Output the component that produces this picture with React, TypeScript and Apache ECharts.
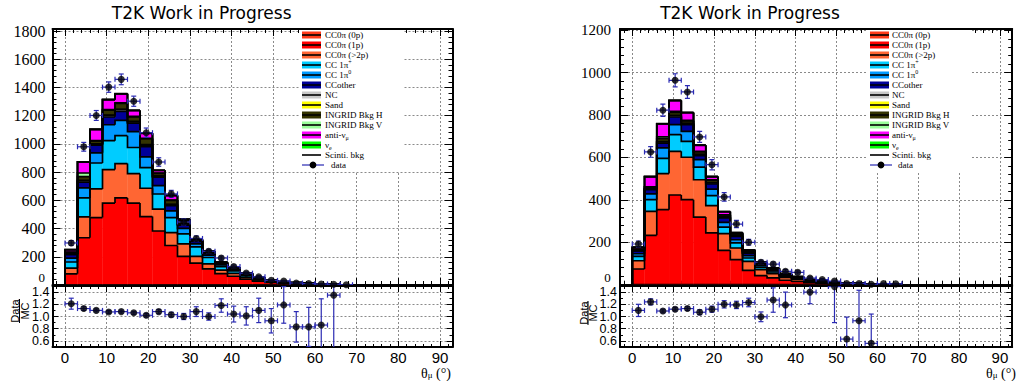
import React, { useEffect, useRef } from 'react';
import * as echarts from 'echarts';

const BIN_WIDTH = 3;
const BIN_LOW_LEFT = [0, 3, 6, 9, 12, 15, 18, 21, 24, 27, 30, 33, 36, 39, 42, 45, 48, 51, 54, 57, 60, 63, 66];
const BIN_LOW_RIGHT = [0, 3, 6, 9, 12, 15, 18, 21, 24, 27, 30, 33, 36, 39, 42, 45, 48, 51, 54, 57, 60, 63];

const LAYER_NAMES = ['CC0π (0p)', 'CC0π (1p)', 'CC0π (>2p)', 'CC 1π+', 'CC 1π0', 'CCother', 'NC', 'Sand', 'INGRID Bkg H', 'INGRID Bkg V', 'anti-νμ', 'νe', 'Scinti. bkg'];
const LAYER_COLORS = ['#ff3b1a', '#ff0000', '#ff6633', '#00ccff', '#0099ff', '#000099', '#c8c8c8', '#ffff00', '#333300', '#99ff99', '#ff00ff', '#00ff00', 'none'];

// ---------- left panel (stacked MC, events per 3 degree bin) ----------
const L_CC0PI_0P = [0, 0, 0, 0, 0, 0, 0, 0, 0, 0, 0, 0, 0, 0, 0, 0, 0, 0, 0, 0, 0, 0, 0];
const L_CC0PI_1P = [79, 335, 478, 581, 617, 581, 485, 383, 280, 203, 155, 115, 80, 62, 42, 28, 19, 13, 9, 6, 4, 2, 0.6];
const L_CC0PI_2P = [41, 148, 203, 237, 244, 208, 201, 155, 91, 89, 48, 35, 25, 20, 13, 8, 5, 3, 2, 2, 1, 0.6, 0.2];
const L_CC1PIP = [43, 134, 184, 205, 198, 186, 146, 107, 107, 71, 67, 45, 25, 18, 12, 7, 5, 3, 2, 1.5, 1, 0.6, 0.1];
const L_CC1PI0 = [28, 71, 72, 113, 108, 113, 76, 60, 48, 39, 22, 17, 12, 10, 6, 3, 2, 1, 1, 0.5, 0.7, 0.3, 0.1];
const L_CCOTHER = [24, 41, 55, 55, 64, 59, 72, 60, 36, 23, 18, 14, 10, 8, 6, 4, 3, 2, 1.5, 1, 0.6, 0.3, 0.1];
const L_NC = [4, 10, 7, 10, 12, 10, 12, 6, 8, 6, 2, 2, 1.5, 1, 0.7, 0.5, 0.4, 0.3, 0.2, 0.2, 0.1, 0.1, 0];
const L_SAND = [1, 3, 2, 3, 3, 3, 3, 2, 2, 1, 0.5, 0.5, 0.3, 0.3, 0.2, 0.1, 0.1, 0.1, 0.1, 0, 0, 0, 0];
const L_INGRID_H = [12, 27, 20, 36, 42, 32, 42, 19, 28, 20, 5, 7, 4, 3.5, 2, 1.3, 1, 0.6, 0.7, 0.5, 0.4, 0.1, 0.1];
const L_INGRID_V = [2, 25, 2, 3, 3, 3, 3, 2, 2, 2, 0.5, 0.5, 0.2, 0.2, 0.1, 0.1, 0, 0, 0, 0, 0, 0, 0];
const L_ANTINU = [16, 77, 79, 70, 63, 41, 34, 18, 32, 11, 4.5, 3.6, 3.6, 2.7, 1.8, 0.9, 0.5, 0.8, 0.4, 0.3, 0.2, 0, 0];
const L_NUE = [1, 2, 2, 2, 2, 2, 2, 1, 1, 1, 0.5, 0.4, 0.4, 0.3, 0.2, 0.1, 0, 0.2, 0.1, 0, 0, 0, 0];
const L_SCINTI = [0.5, 1, 1, 1, 1, 1, 1, 0.5, 0.5, 0.5, 0.3, 0.2, 0.1, 0.1, 0.1, 0, 0, 0, 0, 0, 0, 0, 0];

const L_DATA = [298, 980, 1202, 1403, 1458, 1303, 1080, 872, 646, 447, 330, 239, 191, 131, 84, 58, 33, 28, 14, 10, 7, 5, 2];
const L_DATA_ERR = [17, 31, 35, 37, 38, 36, 33, 30, 25, 21, 18, 15, 14, 11, 9, 8, 6, 5, 4, 3, 3, 2.5, 1.5];
const L_RATIO = [1.21, 1.13, 1.10, 1.075, 1.08, 1.06, 1.02, 1.08, 1.03, 1.0, 1.08, 1.0, 1.18, 1.04, 1.01, 1.10, 0.93, 1.19, 0.83, 0.83, 0.86, 1.35, null];
const L_RATIO_ERR = [0.09, 0.03, 0.025, 0.025, 0.025, 0.025, 0.03, 0.035, 0.04, 0.05, 0.08, 0.06, 0.11, 0.13, 0.15, 0.2, 0.2, 0.3, 0.25, 0.32, 0.43, 1.0, 0];

// ---------- right panel ----------
const R_CC0PI_0P = [0, 0, 0, 0, 0, 0, 0, 0, 0, 0, 0, 0, 0, 0, 0, 0, 0, 0, 0, 0, 0, 0];
const R_CC0PI_1P = [74, 233, 354, 423, 401, 319, 244, 162, 118, 68, 43, 32, 21, 15, 10, 7, 5, 3.5, 2.5, 1.6, 1.2, 0.8];
const R_CC0PI_2P = [39, 113, 170, 206, 200, 176, 129, 79, 55, 42, 28, 20, 13, 10, 6, 4, 3, 2.5, 1.5, 1.1, 0.8, 0.5];
const R_CC1PIP = [21, 55, 72, 79, 75, 60, 47, 31, 24, 16, 11, 8, 6, 4, 3, 2, 1.5, 1, 0.8, 0.5, 0.4, 0.3];
const R_CC1PI0 = [12, 27, 49, 47, 47, 35, 31, 22, 15, 11, 8, 6, 4, 3, 1.5, 1.3, 0.8, 0.6, 0.4, 0.3, 0.2, 0.1];
const R_CCOTHER = [13, 20, 23, 36, 32, 19, 24, 21, 16, 12, 7, 5, 3, 2, 1.5, 1.2, 0.7, 0.6, 0.3, 0.2, 0.2, 0.1];
const R_NC = [2, 3, 6, 6, 5, 5, 5, 4, 3, 2, 1, 1, 0.7, 0.5, 0.3, 0.2, 0.1, 0.1, 0.1, 0, 0, 0];
const R_SAND = [0.5, 1, 1, 1, 1, 1, 1, 1, 0.5, 0.5, 0.2, 0.2, 0.1, 0.1, 0, 0, 0, 0, 0, 0, 0, 0];
const R_INGRID_H = [5.5, 8, 14, 15, 12, 12, 12, 9, 8.5, 6.5, 3.5, 2.6, 2, 1.8, 0.6, 0.5, 0.5, 0.3, 0.2, 0.2, 0.1, 0.1];
const R_INGRID_V = [1, 1, 8, 5, 2, 2, 2, 1, 1, 1, 0.3, 0.2, 0.2, 0.1, 0.1, 0.1, 0, 0, 0, 0, 0, 0];
const R_ANTINU = [8, 48, 61, 50, 36, 28, 14, 14, 4, 5, 4.5, 3.6, 1.8, 1.3, 0.9, 0.6, 0.4, 0.3, 0.2, 0.1, 0.1, 0.1];
const R_NUE = [0.5, 1, 1, 1, 1, 1, 1, 0.5, 0.5, 0.5, 0.3, 0.2, 0.1, 0.1, 0.1, 0.1, 0, 0.1, 0, 0, 0, 0];
const R_SCINTI = [0.3, 0.5, 0.5, 0.5, 0.5, 0.5, 0.5, 0.3, 0.3, 0.3, 0.2, 0.1, 0.1, 0, 0, 0, 0, 0, 0, 0, 0, 0];

const R_DATA = [192, 626, 823, 964, 909, 697, 566, 414, 286, 200, 106, 97, 63, 58, 31, 24, 17, 6, 6, 2, 5, 4];
const R_DATA_ERR = [14, 25, 29, 31, 30, 26, 24, 20, 17, 14, 10, 10, 8, 7.6, 5.6, 4.9, 4, 2.4, 2.4, 1.4, 2.2, 2];
const R_RATIO = [1.10, 1.24, 1.09, 1.12, 1.13, 1.07, 1.12, 1.20, 1.19, 1.23, 0.995, 1.27, 1.19, null, 1.40, null, 1.49, 0.63, 0.93, 0.56, null, null];
const R_RATIO_ERR = [0.1, 0.05, 0.03, 0.03, 0.03, 0.04, 0.05, 0.06, 0.06, 0.07, 0.08, 0.2, 0.21, 0, 0.19, 0, 0.59, 0.36, 0.5, 0.48, 0, 0];

const TITLE = 'T2K Work in Progress';
const ERR_COLOR = '#2b2bb3';

const LEFT_LAYERS = [L_CC0PI_0P, L_CC0PI_1P, L_CC0PI_2P, L_CC1PIP, L_CC1PI0, L_CCOTHER, L_NC, L_SAND, L_INGRID_H, L_INGRID_V, L_ANTINU, L_NUE, L_SCINTI];
const RIGHT_LAYERS = [R_CC0PI_0P, R_CC0PI_1P, R_CC0PI_2P, R_CC1PIP, R_CC1PI0, R_CCOTHER, R_NC, R_SAND, R_INGRID_H, R_INGRID_V, R_ANTINU, R_NUE, R_SCINTI];

function buildStack(binLow: number[], layers: number[][]) {
  const n = binLow.length;
  let cum = binLow.map(() => 0);
  const items: any[] = [];
  layers.forEach((layer, j) => {
    const next = cum.map((c, k) => c + (layer[k] || 0));
    for (let k = 0; k < n; k++) {
      items.push({ value: [binLow[k], binLow[k] + BIN_WIDTH, cum[k], next[k], k > 0 ? next[k - 1] : 0, j, k === n - 1 ? 1 : 0] });
    }
    cum = next;
  });
  return items;
}

const stackRender = (params: any, api: any) => {
  const x0 = api.value(0), x1 = api.value(1), b = api.value(2), t = api.value(3), pt = api.value(4), j = api.value(5), last = api.value(6);
  const lb = api.coord([x0, b]);
  const rt = api.coord([x1, t]);
  const children: any[] = [];
  const fill = LAYER_COLORS[j];
  if (fill !== 'none' && t > b) {
    children.push({ type: 'rect', shape: { x: lb[0], y: rt[1], width: rt[0] - lb[0] + 0.3, height: lb[1] - rt[1] }, style: { fill }, z2: 1 });
  }
  const pts = [api.coord([x0, pt]), api.coord([x0, t]), rt];
  if (last) pts.push(api.coord([x1, 0]));
  children.push({ type: 'polyline', shape: { points: pts }, style: { stroke: '#000', lineWidth: 1.7, fill: null }, z2: 20 + j });
  return { type: 'group', children };
};

const errRender = (params: any, api: any) => {
  const x = api.value(0), y = api.value(1), ey = api.value(2), ex = api.value(3);
  const l = api.coord([x - ex, y]);
  const r = api.coord([x + ex, y]);
  const t = api.coord([x, y + ey]);
  const b = api.coord([x, y - ey]);
  const cap = 2.5;
  const st = { stroke: ERR_COLOR, lineWidth: 1.2 };
  return {
    type: 'group',
    children: [
      { type: 'line', shape: { x1: l[0], y1: l[1], x2: r[0], y2: r[1] }, style: st },
      { type: 'line', shape: { x1: t[0], y1: t[1], x2: b[0], y2: b[1] }, style: st },
      { type: 'line', shape: { x1: l[0], y1: l[1] - cap, x2: l[0], y2: l[1] + cap }, style: st },
      { type: 'line', shape: { x1: r[0], y1: r[1] - cap, x2: r[0], y2: r[1] + cap }, style: st },
      { type: 'line', shape: { x1: t[0] - cap, y1: t[1], x2: t[0] + cap, y2: t[1] }, style: st },
      { type: 'line', shape: { x1: b[0] - cap, y1: b[1], x2: b[0] + cap, y2: b[1] }, style: st },
    ],
  };
};

function points(binLow: number[], vals: (number | null)[], errs: number[]) {
  const out: any[] = [];
  binLow.forEach((lo, k) => {
    const v = vals[k];
    if (v !== null && v !== undefined) out.push([lo + BIN_WIDTH / 2, v, errs[k], BIN_WIDTH / 2]);
  });
  return out;
}

const GRID_LINE = { color: '#8a8a8a', type: [2, 2] as any, width: 1 };

function xAx(grid: number, pos: string, labels: boolean, primary: boolean, tick: number, minor: number) {
  return {
    type: 'value', gridIndex: grid, position: pos, min: -3, max: 93, splitNumber: 10,
    axisLine: { show: true, onZero: false, lineStyle: { color: '#000', width: 2 } },
    axisTick: { show: true, inside: true, length: tick, lineStyle: { color: '#000', width: 1 } },
    minorTick: { show: true, splitNumber: 5, length: minor, lineStyle: { color: '#000', width: 1 } },
    splitLine: { show: primary, lineStyle: GRID_LINE },
    minorSplitLine: { show: false },
    axisLabel: {
      show: labels, showMinLabel: false, showMaxLabel: false, margin: 4, color: '#000',
      fontFamily: 'Liberation Sans', fontSize: 15, lineHeight: 12, formatter: (v: number) => String(v),
    },
  };
}

function yAx(grid: number, pos: string, min: number, max: number, split: number, minorSplit: number, labels: any, primary: boolean, tick: number, minor: number) {
  return {
    type: 'value', gridIndex: grid, position: pos, min, max, splitNumber: split,
    axisLine: { show: true, onZero: false, lineStyle: { color: '#000', width: 2 } },
    axisTick: { show: true, inside: true, length: tick, lineStyle: { color: '#000', width: 1 } },
    minorTick: { show: minorSplit > 0, splitNumber: minorSplit || 2, length: minor, lineStyle: { color: '#000', width: 1 } },
    splitLine: { show: primary, lineStyle: GRID_LINE },
    minorSplitLine: { show: false },
    axisLabel: labels ? { show: true, showMinLabel: false, showMaxLabel: false, color: '#000', ...labels } : { show: false },
  };
}

const LEGEND_TEXTS = ['CC0π (0p)', 'CC0π (1p)', 'CC0π (>2p)', '{n|CC 1π}{p|+}', '{n|CC 1π}{p|0}', 'CCother', 'NC', 'Sand', 'INGRID Bkg H', 'INGRID Bkg V', '{n|anti-ν}{b|μ}', '{n|ν}{b|e}', 'Scinti. bkg', 'data'];

function legend(boxX: number, boxW: number, swX: number, textX: number) {
  const els: any[] = [
    { type: 'rect', shape: { x: boxX, y: 30, width: boxW, height: 141 }, style: { fill: '#fff' }, z: 10, z2: 0 },
  ];
  const rich = {
    n: { fontFamily: 'Liberation Serif', fontSize: 9, lineHeight: 12 },
    p: { fontFamily: 'Liberation Serif', fontSize: 6, lineHeight: 12, verticalAlign: 'top' },
    b: { fontFamily: 'Liberation Serif', fontSize: 6, lineHeight: 12, verticalAlign: 'bottom' },
  };
  LEGEND_TEXTS.forEach((txt, i) => {
    const cy = 35 + 10 * i;
    if (i < 12) {
      els.push({ type: 'rect', shape: { x: swX, y: cy - 3.5, width: 19, height: 7 }, style: { fill: LAYER_COLORS[i] }, z: 10, z2: 1 });
      els.push({ type: 'line', shape: { x1: swX, y1: cy, x2: swX + 19, y2: cy }, style: { stroke: '#000', lineWidth: 1.6 }, z: 10, z2: 2 });
    } else if (i === 12) {
      els.push({ type: 'line', shape: { x1: swX, y1: cy, x2: swX + 19, y2: cy }, style: { stroke: '#000', lineWidth: 1.6 }, z: 10, z2: 2 });
    } else {
      els.push({ type: 'line', shape: { x1: swX, y1: cy, x2: swX + 22, y2: cy }, style: { stroke: ERR_COLOR, lineWidth: 1.2 }, z: 10, z2: 2 });
      els.push({ type: 'circle', shape: { cx: swX + 11, cy, r: 3.4 }, style: { fill: '#000' }, z: 10, z2: 3 });
    }
    els.push({
      type: 'text', x: i === 13 ? textX + 6 : textX, y: cy, z: 10, z2: 3,
      style: { text: txt, rich, fontFamily: 'Liberation Serif', fontSize: 9, fill: '#000', verticalAlign: 'middle', align: 'left' },
    });
  });
  return els;
}

function ratioTitle(cx: number, cy: number) {
  return {
    type: 'group', x: cx, y: cy, rotation: Math.PI / 2, z: 10,
    children: [
      { type: 'text', x: 0, y: -4.5, style: { text: 'Data', fontFamily: 'Liberation Sans', fontSize: 11, lineHeight: 9, fill: '#000', align: 'center', verticalAlign: 'middle' } },
      { type: 'line', shape: { x1: -12, y1: 0, x2: 12, y2: 0 }, style: { stroke: '#000', lineWidth: 1 } },
      { type: 'text', x: 0, y: 5, style: { text: 'MC', fontFamily: 'Liberation Sans', fontSize: 11, lineHeight: 9, fill: '#000', align: 'center', verticalAlign: 'middle' } },
    ],
  };
}

function xTitle(rightX: number, y: number) {
  return {
    type: 'text', x: rightX, y, z: 10,
    style: {
      text: '{a|θ}{s|μ}{a| (°)}', align: 'right', verticalAlign: 'middle',
      rich: {
        a: { fontFamily: 'Liberation Serif', fontSize: 14, lineHeight: 12, fill: '#000' },
        s: { fontFamily: 'Liberation Serif', fontSize: 9, lineHeight: 12, verticalAlign: 'bottom', fill: '#000' },
      },
    },
  };
}

function zeroLabel(rightX: number) {
  return { type: 'text', x: rightX, y: 277, z: 1, style: { text: '0', fontFamily: 'Liberation Serif', fontSize: 13, lineHeight: 11, fill: '#000', align: 'right', verticalAlign: 'middle' } };
}

function buildOption() {
  const grids = [
    { left: 52.5, top: 29, width: 400, height: 256 },
    { left: 52.5, top: 286, width: 400, height: 61 },
    { left: 620, top: 29, width: 392.2, height: 255.7 },
    { left: 620, top: 286, width: 392.2, height: 61 },
  ].map((g) => ({ ...g, outerBoundsMode: 'none', containLabel: false }));

  const xAxis = [
    xAx(0, 'bottom', false, true, 7, 4), xAx(0, 'top', false, false, 7, 4),
    xAx(1, 'bottom', true, true, 6, 3), xAx(1, 'top', false, false, 6, 3),
    xAx(2, 'bottom', false, true, 7, 4), xAx(2, 'top', false, false, 7, 4),
    xAx(3, 'bottom', true, true, 6, 3), xAx(3, 'top', false, false, 6, 3),
  ];
  const mainLabL = { fontFamily: 'Liberation Serif', fontSize: 16, margin: 7, formatter: (v: number) => String(v) };
  const mainLabR = { fontFamily: 'Liberation Serif', fontSize: 15, margin: 9, formatter: (v: number) => String(v) };
  const ratioLab = { fontFamily: 'Liberation Sans', fontSize: 12.5, lineHeight: 11, margin: 3, formatter: (v: number) => v.toFixed(1) };
  const yAxis = [
    yAx(0, 'left', 0, 1815, 9, 5, mainLabL, true, 8, 4), yAx(0, 'right', 0, 1815, 9, 5, null, false, 8, 4),
    yAx(1, 'left', 0.5, 1.5, 5, 2, ratioLab, true, 6, 3), yAx(1, 'right', 0.5, 1.5, 5, 2, null, false, 6, 3),
    yAx(2, 'left', 0, 1206, 6, 5, mainLabR, true, 8, 4), yAx(2, 'right', 0, 1206, 6, 5, null, false, 8, 4),
    yAx(3, 'left', 0.5, 1.5, 5, 2, ratioLab, true, 6, 3), yAx(3, 'right', 0.5, 1.5, 5, 2, null, false, 6, 3),
  ];

  const mk = (binLow: number[], layers: number[][], data: number[], dataErr: number[], ratio: (number | null)[], ratioErr: number[], xMain: number, yMain: number, xRat: number, yRat: number) => {
    const main = points(binLow, data, dataErr);
    const rat = points(binLow, ratio, ratioErr);
    return [
      { type: 'custom', name: 'MC', xAxisIndex: xMain, yAxisIndex: yMain, renderItem: stackRender, data: buildStack(binLow, layers), encode: { x: [0, 1], y: [2, 3] }, clip: true, z: 2, silent: true },
      { type: 'custom', name: 'data err', xAxisIndex: xMain, yAxisIndex: yMain, renderItem: errRender, data: main, encode: { x: 0, y: 1 }, clip: true, z: 4, silent: true },
      { type: 'scatter', name: 'data', xAxisIndex: xMain, yAxisIndex: yMain, data: main.map((p) => [p[0], p[1]]), symbol: 'circle', symbolSize: 7, itemStyle: { color: '#000' }, clip: true, z: 5, silent: true },
      { type: 'custom', name: 'ratio err', xAxisIndex: xRat, yAxisIndex: yRat, renderItem: errRender, data: rat, encode: { x: 0, y: 1 }, clip: true, z: 4, silent: true },
      { type: 'scatter', name: 'ratio', xAxisIndex: xRat, yAxisIndex: yRat, data: rat.map((p) => [p[0], p[1]]), symbol: 'circle', symbolSize: 7, itemStyle: { color: '#000' }, clip: true, z: 5, silent: true },
    ];
  };

  const series = [
    ...mk(BIN_LOW_LEFT, LEFT_LAYERS, L_DATA, L_DATA_ERR, L_RATIO, L_RATIO_ERR, 0, 0, 2, 2),
    ...mk(BIN_LOW_RIGHT, RIGHT_LAYERS, R_DATA, R_DATA_ERR, R_RATIO, R_RATIO_ERR, 4, 4, 6, 6),
  ];

  const graphic = [
    { type: 'text', x: 201.7, y: 12.8, z: 10, style: { text: TITLE, fontFamily: 'DejaVu Sans', fontSize: 17, fill: '#000', align: 'center', verticalAlign: 'middle' } },
    { type: 'text', x: 750, y: 12.8, z: 10, style: { text: TITLE, fontFamily: 'DejaVu Sans', fontSize: 17, fill: '#000', align: 'center', verticalAlign: 'middle' } },
    ...legend(300, 103, 302, 325),
    ...legend(868, 102, 870, 892),
    ratioTitle(19.5, 311),
    ratioTitle(588, 313),
    xTitle(451, 373),
    xTitle(1016, 373),
    zeroLabel(45),
    zeroLabel(610.7),
  ];

  return { animation: false, backgroundColor: '#fff', grid: grids, xAxis, yAxis, series, graphic };
}

export default function App() {
  const ref = useRef<HTMLDivElement>(null);
  useEffect(() => {
    const chart = echarts.init(ref.current as HTMLDivElement, null, { renderer: 'svg' });
    chart.setOption(buildOption() as any);
    return () => chart.dispose();
  }, []);
  return <div ref={ref} style={{ position: 'absolute', left: 0, top: 0, width: 1018, height: 381, background: '#fff' }} />;
}
